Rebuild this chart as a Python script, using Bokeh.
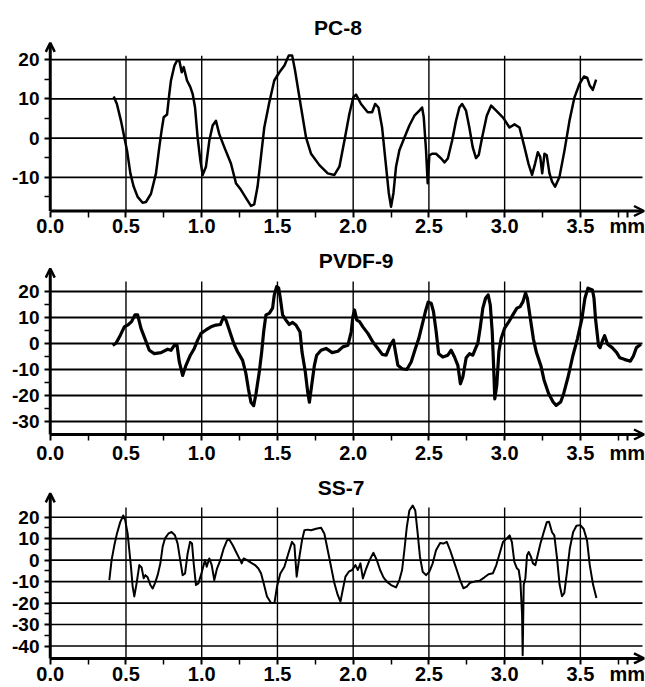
from bokeh.plotting import figure
from bokeh.layouts import column
from bokeh.models import Range1d, FixedTicker, Arrow, OpenHead, Label, ColumnDataSource
from bokeh.embed import file_html
from bokeh.resources import INLINE

FONT = "Liberation Sans"

# ---------------- data ----------------
x_ticks = [0.0, 0.5, 1.0, 1.5, 2.0, 2.5, 3.0, 3.5]
x_tick_labels = ["0.0", "0.5", "1.0", "1.5", "2.0", "2.5", "3.0", "3.5"]
x_minor_ticks = [0.25, 0.75, 1.25, 1.75, 2.25, 2.75, 3.25, 3.75]
x_unit = "mm"
x_unit_pos = 3.81

pc8_y_ticks = [20, 10, 0, -10]
pc8_y_minor = [15, 5, -5, -15]
pvdf9_y_ticks = [20, 10, 0, -10, -20, -30]
pvdf9_y_minor = [15, 5, -5, -15, -25]
ss7_y_ticks = [20, 10, 0, -10, -20, -30, -40]
ss7_y_minor = [15, 5, -5, -15, -25, -35]

pc8_x = [0.419, 0.44, 0.467, 0.489, 0.507, 0.529, 0.55, 0.577, 0.61, 0.632, 0.665, 0.698, 0.72, 0.735,
         0.749, 0.771, 0.786, 0.797, 0.82, 0.837, 0.852, 0.868, 0.881, 0.903, 0.925, 0.94, 0.956, 0.973,
         0.991, 1.006, 1.028, 1.05, 1.072, 1.094, 1.116, 1.149, 1.193, 1.226, 1.259, 1.299, 1.325, 1.347,
         1.369, 1.391, 1.413, 1.446, 1.479, 1.513, 1.546, 1.575, 1.597, 1.616, 1.656, 1.689, 1.722, 1.777,
         1.832, 1.876, 1.909, 1.942, 1.975, 2.001, 2.019, 2.052, 2.096, 2.125, 2.145, 2.167, 2.191, 2.213,
         2.235, 2.25, 2.266, 2.283, 2.305, 2.338, 2.371, 2.404, 2.437, 2.455, 2.466, 2.481, 2.492, 2.503,
         2.521, 2.547, 2.581, 2.603, 2.625, 2.653, 2.679, 2.701, 2.719, 2.745, 2.767, 2.789, 2.811, 2.829,
         2.851, 2.882, 2.911, 2.944, 2.988, 3.004, 3.032, 3.065, 3.098, 3.131, 3.157, 3.181, 3.201, 3.219,
         3.235, 3.248, 3.263, 3.278, 3.296, 3.313, 3.333, 3.362, 3.395, 3.428, 3.461, 3.494, 3.523, 3.545,
         3.562, 3.582, 3.604]
pc8_y = [10.6, 8.7, 4.4, 0.2, -3.2, -9.0, -12.3, -15.0, -16.5, -16.3, -14.2, -9.0, -2.3, 1.9,
         5.3, 6.0, 11.3, 14.7, 18.5, 19.8, 19.8, 16.8, 18.1, 14.7, 13.0, 11.3, 7.8, 0.1,
         -5.7, -9.4, -7.3, -0.7, 3.2, 4.4, 1.0, -2.3, -6.5, -11.5, -13.2, -15.7, -17.3, -16.9,
         -12.3, -4.8, 2.7, 9.1, 14.7, 16.8, 18.5, 21.1, 21.1, 17.3, 7.8, 0.1, -4.0, -6.9,
         -9.0, -9.4, -7.3, -0.7, 6.2, 10.4, 11.1, 8.7, 6.6, 6.6, 8.7, 7.8, 2.7, -5.7,
         -14.0, -17.5, -14.0, -7.3, -3.1, 0.1, 3.2, 5.7, 7.0, 7.8, 5.3, -3.1, -11.5, -4.4,
         -4.0, -4.0, -5.2, -6.2, -5.2, -0.7, 4.4, 7.8, 8.7, 7.0, 2.7, -2.3, -5.1, -4.3,
         0.1, 5.7, 8.3, 7.0, 5.3, 4.4, 2.7, 3.5, 2.7, -2.3, -6.5, -9.4, -6.5, -3.6,
         -4.8, -9.0, -4.0, -4.4, -9.0, -11.1, -12.4, -9.9, -3.2, 4.4, 10.4, 13.8, 15.7, 15.4,
         13.4, 12.3, 14.9]

pvdf9_x = [0.412, 0.434, 0.463, 0.489, 0.516, 0.537, 0.559, 0.577, 0.599, 0.625, 0.654, 0.687, 0.731,
           0.775, 0.797, 0.819, 0.837, 0.852, 0.874, 0.896, 0.925, 0.951, 0.973, 0.995, 1.028, 1.061,
           1.094, 1.123, 1.145, 1.16, 1.182, 1.211, 1.237, 1.27, 1.292, 1.308, 1.325, 1.343, 1.358,
           1.38, 1.396, 1.409, 1.424, 1.446, 1.468, 1.479, 1.495, 1.508, 1.519, 1.534, 1.556, 1.578,
           1.6, 1.622, 1.649, 1.662, 1.684, 1.7, 1.711, 1.726, 1.744, 1.759, 1.788, 1.821, 1.861,
           1.899, 1.932, 1.965, 1.987, 1.998, 2.009, 2.024, 2.042, 2.064, 2.097, 2.13, 2.163, 2.192,
           2.218, 2.244, 2.266, 2.279, 2.295, 2.323, 2.354, 2.383, 2.411, 2.433, 2.455, 2.477, 2.495,
           2.515, 2.53, 2.548, 2.564, 2.592, 2.625, 2.647, 2.669, 2.691, 2.708, 2.724, 2.746, 2.768,
           2.79, 2.808, 2.823, 2.838, 2.856, 2.874, 2.891, 2.905, 2.918, 2.927, 2.935, 2.948, 2.962,
           2.977, 2.999, 3.028, 3.054, 3.081, 3.103, 3.121, 3.138, 3.15, 3.17, 3.19, 3.21, 3.24,
           3.26, 3.29, 3.32, 3.34, 3.37, 3.39, 3.42, 3.45, 3.48, 3.51, 3.53, 3.55, 3.58, 3.59, 3.6,
           3.62, 3.63, 3.65, 3.66, 3.68, 3.71, 3.74, 3.76, 3.79, 3.83, 3.85, 3.87, 3.9]
pvdf9_y = [-0.7, 0.1, 3.2, 6.4, 7.3, 8.4, 11.0, 11.0, 5.8, 1.9, -2.6, -3.9, -3.5,
           -2.2, -2.6, -0.7, -0.7, -7.1, -12.3, -8.4, -4.5, -1.9, 1.3, 3.9, 5.2, 6.4,
           7.1, 7.3, 10.3, 9.0, 5.2, 0.1, -3.2, -6.5, -11.6, -17.4, -22.6, -23.9, -19.4,
           -11.0, -3.2, 4.5, 11.0, 11.6, 13.6, 18.7, 21.9, 21.3, 17.4, 11.0, 9.0, 7.3,
           8.1, 7.1, 4.5, -3.2, -11.0, -18.8, -22.6, -16.1, -8.4, -4.5, -2.6, -1.9, -3.5,
           -3.0, -1.3, -0.7, 4.5, 10.3, 12.9, 9.0, 8.4, 6.4, 3.9, 0.6, -1.9, -4.2,
           -4.5, -0.7, 1.3, -3.2, -8.4, -9.7, -10.0, -7.1, -1.9, 1.9, 7.1, 12.3, 15.9,
           15.5, 12.3, 4.5, -3.9, -5.2, -4.5, -2.6, -5.2, -8.4, -15.5, -12.9, -5.5, -3.9,
           -4.5, -1.9, 0.1, 5.8, 13.6, 17.4, 18.7, 14.9, 4.5, -8.4, -21.3, -16.1, -3.2,
           1.9, 5.8, 8.4, 11.0, 13.6, 14.2, 16.1, 19.4, 17.4, 9.5, 1.7, -3.5, -8.7,
           -14.0, -19.2, -22.5, -23.8, -22.5, -19.2, -12.6, -4.8, 1.7, 9.5, 17.4, 21.3, 20.6, 17.4, 9.5,
           -0.9, -1.6, 1.7, 3.0, -0.3, -1.6, -3.5, -5.5, -6.1, -6.8, -4.8, -1.6, -0.3]

ss7_x = [0.39, 0.405, 0.423, 0.44, 0.462, 0.482, 0.495, 0.511, 0.522, 0.533, 0.544, 0.555, 0.57,
         0.588, 0.603, 0.617, 0.628, 0.643, 0.661, 0.676, 0.691, 0.709, 0.727, 0.742, 0.757, 0.779,
         0.801, 0.823, 0.841, 0.858, 0.874, 0.89, 0.907, 0.923, 0.936, 0.947, 0.962, 0.978, 0.995,
         1.01, 1.022, 1.033, 1.05, 1.066, 1.083, 1.101, 1.123, 1.145, 1.167, 1.182, 1.205, 1.226,
         1.248, 1.264, 1.277, 1.299, 1.325, 1.352, 1.374, 1.392, 1.409, 1.431, 1.458, 1.48, 1.497,
         1.519, 1.546, 1.572, 1.596, 1.612, 1.627, 1.645, 1.662, 1.678, 1.7, 1.722, 1.755, 1.788,
         1.81, 1.832, 1.854, 1.876, 1.898, 1.916, 1.931, 1.949, 1.971, 1.993, 2.015, 2.031, 2.048,
         2.064, 2.086, 2.108, 2.134, 2.156, 2.178, 2.2, 2.222, 2.25, 2.283, 2.305, 2.323, 2.338,
         2.354, 2.371, 2.393, 2.41, 2.426, 2.441, 2.459, 2.481, 2.503, 2.525, 2.547, 2.574, 2.596,
         2.618, 2.64, 2.662, 2.684, 2.706, 2.728, 2.75, 2.772, 2.801, 2.834, 2.867, 2.894, 2.923,
         2.945, 2.967, 2.989, 3.011, 3.033, 3.048, 3.064, 3.081, 3.093, 3.104, 3.115, 3.119, 3.126,
         3.137, 3.148, 3.159, 3.174, 3.187, 3.203, 3.218, 3.236, 3.258, 3.278, 3.293, 3.313, 3.328,
         3.346, 3.363, 3.379, 3.394, 3.412, 3.43, 3.452, 3.474, 3.5, 3.522, 3.544, 3.562, 3.584, 3.606]
ss7_y = [-9.3, 0.0, 6.9, 12.3, 17.7, 20.8, 18.5, 12.3, 4.6, -3.1, -12.3, -16.9, -10.8,
         -2.3, -3.4, -8.5, -7.0, -8.0, -11.6, -13.2, -10.8, -7.0, -1.5, 6.2, 10.0, 12.3,
         13.1, 11.6, 7.7, 0.0, -7.0, -6.2, 3.1, 8.5, 7.7, -1.5, -11.6, -10.8, -7.0,
         -3.1, 0.0, -3.1, 0.8, -2.3, -9.3, -3.9, 0.0, 5.4, 9.2, 9.6, 6.9, 3.9,
         0.8, -1.5, 0.8, 0.0, -1.2, -2.3, -3.9, -6.2, -10.8, -16.9, -20.0, -20.0, -12.3,
         -6.2, -3.1, 3.1, 8.5, 7.0, -7.7, 1.5, 9.2, 13.9, 14.2, 13.9, 14.6, 15.1,
         12.3, 4.6, -3.1, -10.8, -16.2, -19.3, -13.9, -7.7, -5.4, -4.6, -2.3, -4.6, -1.5,
         -8.5, -3.9, 0.0, 3.4, 0.0, -4.6, -8.0, -10.0, -11.6, -12.7, -9.3, -4.6, 4.6,
         15.4, 23.1, 25.4, 23.1, 12.3, 1.5, -5.4, -7.0, -5.4, -1.5, 4.6, 8.0, 7.7,
         8.5, 4.6, 0.0, -4.6, -9.3, -13.1, -12.3, -10.5, -10.0, -9.6, -8.0, -6.6, -6.1,
         -2.3, 3.1, 8.4, 9.9, 11.5, 8.4, -0.8, -3.8, -4.6, -9.9, -25.2, -44.3, -11.5,
         -8.4, 2.3, 3.8, 1.5, -1.5, -2.3, 2.3, 7.6, 13.0, 17.6, 17.9, 13.0, 11.5,
         0.8, -11.5, -16.8, -15.3, -5.3, 5.3, 13.0, 16.0, 16.3, 14.5, 9.2, -2.3, -11.5, -17.6]


def make_panel(title, xs, ys, yticks, yminor, g):
    p = figure(width=645, height=g["h"], min_border_left=44, min_border_right=0,
               min_border_top=0, min_border_bottom=g["bb"],
               x_range=Range1d(-0.038, 3.93), y_range=Range1d(g["y0"], g["y1"]),
               output_backend="svg", toolbar_location=None)
    p.outline_line_color = None
    p.background_fill_color = "white"
    p.border_fill_color = "white"
    p.xgrid.visible = False
    p.ygrid.visible = False

    # horizontal grid lines
    hsrc = ColumnDataSource(dict(x0=[0.0] * len(yticks), x1=[3.91] * len(yticks), y=yticks))
    p.segment(x0="x0", y0="y", x1="x1", y1="y", source=hsrc, line_color="black",
              line_width=g["hw"])
    # vertical grid lines
    vx = x_ticks[1:]
    vsrc = ColumnDataSource(dict(x=vx, y0=[g["ax"]] * len(vx), y1=[g["vt"]] * len(vx)))
    p.segment(x0="x", y0="y0", x1="x", y1="y1", source=vsrc, line_color="black",
              line_width=1.4)

    # the profile
    p.line(xs, ys, line_color="black", line_width=g["lw"], line_join="round")

    # axes with arrows
    p.add_layout(Arrow(end=OpenHead(size=9, line_width=2.5, line_color="black"),
                       x_start=0, y_start=g["ax"], x_end=0, y_end=g["tip"],
                       line_width=3, line_color="black"))
    p.add_layout(Arrow(end=OpenHead(size=10, line_width=2.5, line_color="black"),
                       x_start=0, y_start=g["ax"], x_end=3.92, y_end=g["ax"],
                       line_width=3, line_color="black"))

    for ax in (p.xaxis, p.yaxis):
        ax.axis_line_color = None
        ax.major_tick_line_color = "black"
        ax.minor_tick_line_color = "black"
        ax.major_tick_line_width = 2
        ax.minor_tick_line_width = 1.5
        ax.major_tick_out = 0
        ax.minor_tick_out = 0
        ax.major_label_text_color = "black"
        ax.major_label_text_font = FONT
        ax.major_label_text_font_style = "bold"

    xt = x_ticks + [x_unit_pos]
    xl = x_tick_labels + [x_unit]
    p.xaxis.ticker = FixedTicker(ticks=xt, minor_ticks=x_minor_ticks)
    p.xaxis.major_label_overrides = {t: s for t, s in zip(xt, xl)}
    p.xaxis.major_tick_in = g["ti"]
    p.xaxis.minor_tick_in = g["ti"]
    p.xaxis.major_label_standoff = g["xs"]
    p.xaxis.major_label_text_font_size = "20px"

    p.yaxis.ticker = FixedTicker(ticks=yticks, minor_ticks=yminor)
    p.yaxis.major_label_overrides = {t: str(t) for t in yticks}
    p.yaxis.major_tick_in = 6
    p.yaxis.minor_tick_in = 5
    p.yaxis.major_label_standoff = 5
    p.yaxis.major_label_text_font_size = "19px"

    p.add_layout(Label(x=g["tx"], y=g["ty"], text=title, text_align="center",
                       text_baseline="middle", text_font=FONT, text_font_style="bold",
                       text_font_size="21px", text_color="black"))
    return p


g1 = dict(h=239, bb=22, y0=-20.26, y1=35.1, ax=-18.6, tip=24.3, vt=21.0, hw=1.8, lw=2.5,
          ti=6, xs=-3, tx=1.90, ty=28.31)
g2 = dict(h=227, bb=26, y0=-37.31, y1=40.0, ax=-35.0, tip=28.8, vt=23.8, hw=1.8, lw=3.2,
          ti=6, xs=1, tx=2.02, ty=31.92)
g3 = dict(h=221, bb=23, y0=-48.6, y1=43.6, ax=-45.8, tip=31.1, vt=24.5, hw=1.6, lw=2.0,
          ti=6, xs=-2, tx=1.92, ty=33.63)

p1 = make_panel("PC-8", pc8_x, pc8_y, pc8_y_ticks, pc8_y_minor, g1)
p2 = make_panel("PVDF-9", pvdf9_x, pvdf9_y, pvdf9_y_ticks, pvdf9_y_minor, g2)
p3 = make_panel("SS-7", ss7_x, ss7_y, ss7_y_ticks, ss7_y_minor, g3)

layout = column(p1, p2, p3, spacing=0)
open("out.html", "w").write(file_html(layout, INLINE))
